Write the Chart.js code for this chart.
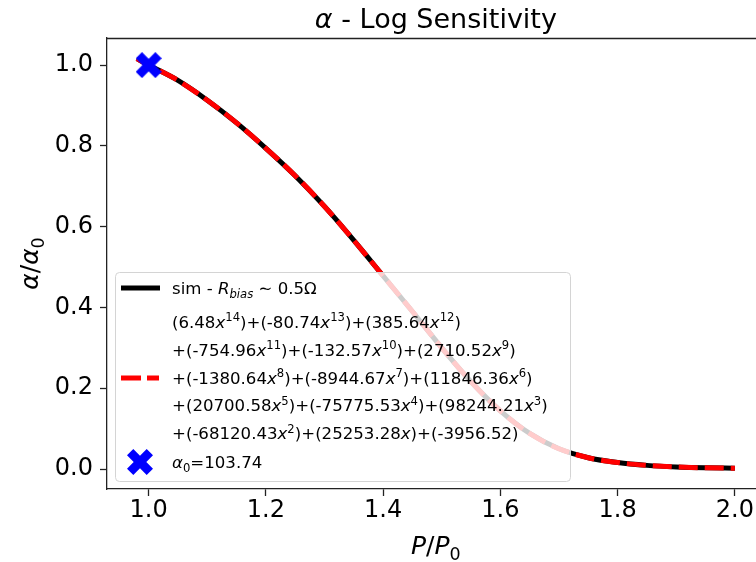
<!DOCTYPE html>
<html>
<head>
<meta charset="utf-8">
<script src="https://cdn.jsdelivr.net/npm/chart.js@4.4.1/dist/chart.umd.min.js"></script>
<style>
  html, body { margin: 0; padding: 0; background: #fff; }
  canvas { display: block; }
</style>
</head>
<body>
<canvas id="alpha_log" width="756" height="562"></canvas>
<script>
// values
const pRatio   = [0.98, 1.00, 1.05, 1.10, 1.15, 1.20, 1.25, 1.30, 1.35, 1.40, 1.45, 1.50, 1.55, 1.60, 1.65, 1.70, 1.75, 1.80, 1.85, 1.90, 1.95, 2.00];
const simAlpha = [1.016, 1.000, 0.962, 0.913, 0.857, 0.794, 0.726, 0.650, 0.566, 0.478, 0.390, 0.300, 0.216, 0.144, 0.088, 0.050, 0.028, 0.016, 0.009, 0.005, 0.003, 0.002];
const fitAlpha = [1.016, 1.000, 0.962, 0.913, 0.857, 0.794, 0.726, 0.650, 0.566, 0.478, 0.390, 0.300, 0.216, 0.144, 0.088, 0.050, 0.028, 0.016, 0.009, 0.005, 0.003, 0.002];
const alpha0X = [1.0];
const alpha0Y = [1.0];
const xTickVals = [1.0, 1.2, 1.4, 1.6, 1.8, 2.0];
const yTickVals = [0.0, 0.2, 0.4, 0.6, 0.8, 1.0];
const fitLabelLines = [
    '(6.48x^14)+(-80.74x^13)+(385.64x^12)',
    '+(-754.96x^11)+(-132.57x^10)+(2710.52x^9)',
    '+(-1380.64x^8)+(-8944.67x^7)+(11846.36x^6)',
    '+(20700.58x^5)+(-75775.53x^4)+(98244.21x^3)',
    '+(-68120.43x^2)+(25253.28x)+(-3956.52)'
];

const FONT = '"DejaVu Sans", sans-serif';

function runFont(r, size) {
    const s = (r.sup || r.sub) ? size * 0.7 : size;
    return (r.it ? 'italic ' : '') + s + 'px ' + FONT;
}

function richWidth(ctx, runs, size) {
    let w = 0;
    runs.forEach(r => { ctx.font = runFont(r, size); w += ctx.measureText(r.t).width; });
    return w;
}

function drawRich(ctx, runs, x, y, size, align) {
    let cx = align === 'center' ? x - richWidth(ctx, runs, size) / 2 : x;
    ctx.textAlign = 'left';
    ctx.textBaseline = 'alphabetic';
    runs.forEach(r => {
        ctx.font = runFont(r, size);
        const dy = r.sup ? -size * 0.4 : (r.sub ? size * 0.22 : 0);
        ctx.fillText(r.t, cx, y + dy);
        cx += ctx.measureText(r.t).width;
    });
}

function polyRuns(line) {
    const out = [];
    line.split(/(x\^\d+|x)/).forEach(part => {
        if (!part) return;
        if (part[0] === 'x') {
            out.push({ t: 'x', it: true });
            if (part.length > 1) out.push({ t: part.slice(2), sup: true });
        } else {
            out.push({ t: part });
        }
    });
    return out;
}

// filled "X" marker like matplotlib's 'X'
function makeX(size, color) {
    const c = document.createElement('canvas');
    c.width = size; c.height = size;
    const g = c.getContext('2d');
    const L = size / 2 * Math.SQRT2 / 1.32;
    const w = 0.32 * L;
    g.translate(size / 2, size / 2);
    g.rotate(Math.PI / 4);
    g.beginPath();
    g.moveTo(-w, -L); g.lineTo(w, -L); g.lineTo(w, -w); g.lineTo(L, -w);
    g.lineTo(L, w); g.lineTo(w, w); g.lineTo(w, L); g.lineTo(-w, L);
    g.lineTo(-w, w); g.lineTo(-L, w); g.lineTo(-L, -w); g.lineTo(-w, -w);
    g.closePath();
    g.fillStyle = color;
    g.fill();
    return c;
}

const xMarker = makeX(26, '#0000ff');

const decorations = {
    id: 'decorations',
    afterDatasetsDraw(chart) {
        const ctx = chart.ctx;
        ctx.save();
        // legend box
        ctx.beginPath();
        ctx.roundRect(115.5, 272.5, 455, 209, 4);
        ctx.fillStyle = 'rgba(255,255,255,0.8)';
        ctx.fill();
        ctx.strokeStyle = '#d4d4d4';
        ctx.lineWidth = 1;
        ctx.stroke();

        // handles
        ctx.lineCap = 'butt';
        ctx.strokeStyle = '#000';
        ctx.lineWidth = 5;
        ctx.beginPath(); ctx.moveTo(121, 288); ctx.lineTo(160, 288); ctx.stroke();

        ctx.strokeStyle = '#ff0000';
        ctx.setLineDash([20, 6]);
        ctx.beginPath(); ctx.moveTo(121, 378); ctx.lineTo(159, 378); ctx.stroke();
        ctx.setLineDash([]);

        ctx.drawImage(xMarker, 140 - 13, 462 - 13);

        // labels
        ctx.fillStyle = '#000';
        const fs = 16.6;
        drawRich(ctx, [{ t: 'sim - ' }, { t: 'R', it: true }, { t: 'bias', it: true, sub: true }, { t: ' \u223C 0.5\u03A9' }], 172, 294, fs);
        fitLabelLines.forEach((line, i) => {
            drawRich(ctx, polyRuns(line), 172, 328 + i * 27.8, fs);
        });
        drawRich(ctx, [{ t: '\u03B1', it: true }, { t: '0', sub: true }, { t: '=103.74' }], 172, 468, fs);
        ctx.restore();
    },
    afterDraw(chart) {
        const ctx = chart.ctx;
        const area = chart.chartArea;
        const xs = chart.scales.x;
        const axesMid = (xs.getPixelForValue(0.929) + xs.getPixelForValue(2.051)) / 2;
        ctx.save();
        // top spine
        ctx.strokeStyle = '#222';
        ctx.lineWidth = 1.3;
        ctx.beginPath(); ctx.moveTo(area.left, area.top + 0.5); ctx.lineTo(area.right, area.top + 0.5); ctx.stroke();

        ctx.fillStyle = '#000';
        drawRich(ctx, [{ t: '\u03B1', it: true }, { t: ' - Log Sensitivity' }], axesMid, 28, 27, 'center');
        drawRich(ctx, [{ t: 'P', it: true }, { t: '/' }, { t: 'P', it: true }, { t: '0', sub: true }], axesMid, 554, 25, 'center');

        ctx.translate(38, (area.top + area.bottom) / 2);
        ctx.rotate(-Math.PI / 2);
        drawRich(ctx, [{ t: '\u03B1', it: true }, { t: '/' }, { t: '\u03B1', it: true }, { t: '0', sub: true }], 0, 0, 25, 'center');
        ctx.restore();
    }
};

const ctx = document.getElementById('alpha_log').getContext('2d');

const chart = new Chart(ctx, {
    type: 'line',
    data: {
        datasets: [
            {
                label: 'fit',
                data: pRatio.map((p, i) => ({ x: p, y: fitAlpha[i] })),
                borderColor: '#ff0000',
                borderWidth: 5,
                borderDash: [19, 7],
                pointRadius: 0,
                cubicInterpolationMode: 'monotone',
                order: 1
            },
            {
                label: 'sim',
                data: pRatio.map((p, i) => ({ x: p, y: simAlpha[i] })),
                borderColor: '#000000',
                borderWidth: 5,
                pointRadius: 0,
                cubicInterpolationMode: 'monotone',
                order: 2
            },
            {
                label: 'alpha0',
                data: alpha0X.map((p, i) => ({ x: p, y: alpha0Y[i] })),
                showLine: false,
                pointStyle: xMarker,
                pointRadius: 13,
                order: 0
            }
        ]
    },
    options: {
        responsive: false,
        animation: false,
        devicePixelRatio: 1,
        layout: { autoPadding: false, padding: { top: 38, right: 0, left: 0, bottom: 0 } },
        plugins: {
            legend: { display: false },
            title: { display: false },
            tooltip: { enabled: false }
        },
        scales: {
            x: {
                type: 'linear',
                min: 0.929,
                max: 2.036,
                afterBuildTicks: scale => { scale.ticks = xTickVals.map(v => ({ value: v })); },
                afterFit: scale => { scale.height = 73; scale.paddingLeft = 0; scale.paddingRight = 0; },
                grid: { drawOnChartArea: false, drawTicks: true, tickLength: 7, tickWidth: 1.3, tickColor: '#222' },
                border: { display: true, color: '#222', width: 1.3 },
                ticks: {
                    autoSkip: false,
                    maxRotation: 0,
                    padding: 0,
                    color: '#000',
                    font: { family: FONT, size: 24 },
                    callback: v => v.toFixed(1)
                }
            },
            y: {
                min: -0.0495,
                max: 1.067,
                afterBuildTicks: scale => { scale.ticks = yTickVals.map(v => ({ value: v })); },
                afterFit: scale => { scale.width = 107; scale.paddingTop = 0; scale.paddingBottom = 0; },
                grid: { drawOnChartArea: false, drawTicks: true, tickLength: 7, tickWidth: 1.3, tickColor: '#222' },
                border: { display: true, color: '#222', width: 1.3 },
                ticks: {
                    autoSkip: false,
                    padding: 7,
                    color: '#000',
                    font: { family: FONT, size: 24 },
                    callback: v => v.toFixed(1)
                }
            }
        }
    },
    plugins: [decorations]
});
</script>
</body>
</html>
